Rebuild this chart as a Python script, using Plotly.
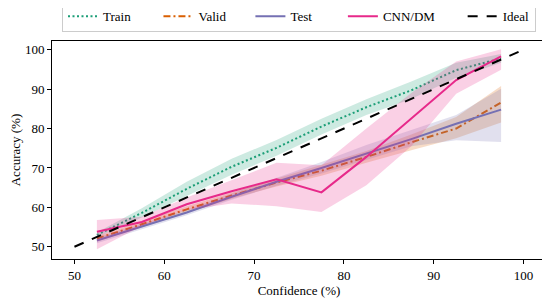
import plotly.graph_objects as go

# ---- data ----
confidence = [52.5, 57.5, 62.5, 67.5, 72.5, 77.5, 82.5, 87.5, 92.5, 97.5]

train = [53.0, 58.6, 64.7, 70.3, 75.1, 80.5, 85.4, 89.7, 94.8, 97.8]
train_lo = [52.4, 57.4, 62.9, 68.3, 73.1, 78.5, 83.4, 87.5, 92.9, 96.7]
train_hi = [53.6, 59.8, 66.5, 72.3, 77.1, 82.5, 87.4, 91.9, 96.7, 98.9]

valid = [52.1, 55.7, 59.5, 63.0, 66.3, 69.3, 72.8, 76.5, 80.0, 86.6]
valid_lo = [51.4, 55.0, 58.7, 62.2, 65.3, 68.0, 71.3, 74.5, 77.5, 81.5]
valid_hi = [52.7, 56.4, 60.3, 63.8, 67.3, 70.7, 74.3, 78.5, 82.9, 90.8]

test = [51.6, 55.1, 58.7, 62.7, 66.5, 70.0, 73.6, 77.3, 81.2, 84.8]
test_lo = [50.9, 54.4, 58.0, 61.9, 65.5, 68.6, 72.0, 75.5, 77.0, 76.6]
test_hi = [52.3, 55.8, 59.4, 63.5, 67.5, 71.5, 75.8, 79.6, 83.4, 90.1]

cnndm = [53.8, 56.3, 60.8, 64.1, 67.1, 63.8, 72.8, 82.6, 92.3, 98.3]
cnndm_lo = [49.4, 55.3, 59.3, 61.0, 60.3, 58.8, 65.6, 75.5, 88.8, 94.9]
cnndm_hi = [56.8, 57.6, 62.5, 66.8, 71.3, 70.7, 80.0, 89.0, 97.0, 100.1]

ideal_x = [50, 100]
ideal_y = [50, 100]

x_ticks = [50, 60, 70, 80, 90, 100]
y_ticks = [50, 60, 70, 80, 90, 100]

series = [
    ("Train", train, train_lo, train_hi, "#1b9e77", "2px,2.5px", 7),
    ("Valid", valid, valid_lo, valid_hi, "#d95f02", "7px,3px,2px,3px", 6),
    ("Test", test, test_lo, test_hi, "#7570b3", "solid", 8),
    ("CNN/DM", cnndm, cnndm_lo, cnndm_hi, "#e7298a", "solid", 7),
]

FONT = "Liberation Serif"
NBSP = "\u00a0"


def rgba(hexc, a):
    h = hexc.lstrip("#")
    r, g, b = int(h[0:2], 16), int(h[2:4], 16), int(h[4:6], 16)
    return f"rgba({r},{g},{b},{a})"


fig = go.Figure()
for name, mean, lo, hi, color, dash, pad in series:
    fig.add_trace(go.Scatter(x=confidence, y=lo, mode="lines",
                             line=dict(width=0, color=color),
                             showlegend=False, hoverinfo="skip"))
    fig.add_trace(go.Scatter(x=confidence, y=hi, mode="lines",
                             line=dict(width=0, color=color),
                             fill="tonexty", fillcolor=rgba(color, 0.22),
                             showlegend=False, hoverinfo="skip"))
    fig.add_trace(go.Scatter(x=confidence, y=mean, mode="lines",
                             name=name + NBSP * pad,
                             line=dict(color=color, width=2, dash=dash)))

fig.add_trace(go.Scatter(x=ideal_x, y=ideal_y, mode="lines", name="Ideal",
                         line=dict(color="black", width=2, dash="10px,9px")))

axis_common = dict(
    showline=True, linecolor="black", linewidth=1, mirror=True,
    ticks="outside", ticklen=4, tickwidth=1, tickcolor="black",
    showgrid=False, zeroline=False, automargin=False,
    tickfont=dict(family=FONT, size=13, color="black"),
)

# the page body adds an 8px offset, so the figure is 8px smaller
fig.update_layout(
    width=542, height=292,
    margin=dict(l=44, r=4, t=33, b=41, autoexpand=False),
    paper_bgcolor="white", plot_bgcolor="white",
    font=dict(family=FONT, size=13, color="black"),
    xaxis=dict(range=[47.5, 102.5], tickvals=x_ticks,
               title=dict(text="Confidence (%)", standoff=2,
                          font=dict(family=FONT, size=13)),
               **axis_common),
    yaxis=dict(range=[46.9, 102.2], tickvals=y_ticks,
               title=dict(text="Accuracy (%)", standoff=9,
                          font=dict(family=FONT, size=13)),
               **axis_common),
    legend=dict(orientation="h", traceorder="normal",
                x=0.5, xanchor="center", y=1.04, yanchor="bottom",
                bordercolor="#cccccc", borderwidth=1, bgcolor="white",
                font=dict(family=FONT, size=13)),
)

fig.write_html("out.html")
